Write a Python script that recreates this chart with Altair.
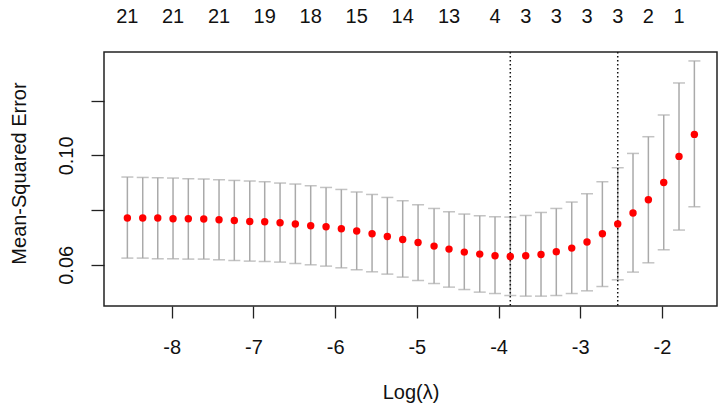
import altair as alt
import pandas as pd

# log(lambda) values of the 38 fitted lambdas
log_lambda = [-8.543, -8.355, -8.171, -7.984, -7.797, -7.608, -7.421, -7.234, -7.045, -6.862,
              -6.674, -6.487, -6.299, -6.111, -5.924, -5.736, -5.548, -5.361, -5.173, -4.985,
              -4.789, -4.606, -4.419, -4.230, -4.043, -3.856, -3.667, -3.480, -3.293, -3.104,
              -2.917, -2.729, -2.541, -2.354, -2.166, -1.978, -1.791, -1.603]

cvm = [0.0771, 0.0771, 0.0771, 0.07683, 0.07683, 0.07672, 0.07647, 0.07621, 0.07584, 0.07573,
       0.07537, 0.07489, 0.07427, 0.0739, 0.07317, 0.07233, 0.07134, 0.07035, 0.06926, 0.06816,
       0.06684, 0.06574, 0.06465, 0.06392, 0.06329, 0.06304, 0.06329, 0.06377, 0.06476, 0.06611,
       0.06831, 0.07134, 0.07489, 0.07892, 0.08378, 0.09011, 0.09963, 0.10768]

cvup = [0.09209, 0.09194, 0.09183, 0.09172, 0.09147, 0.09136, 0.0911, 0.09085, 0.09063, 0.09037,
        0.08989, 0.08953, 0.08891, 0.08828, 0.08755, 0.0866, 0.08572, 0.08463, 0.08342, 0.08195,
        0.0806, 0.07939, 0.07855, 0.07793, 0.07756, 0.07745, 0.07804, 0.07914, 0.0806, 0.08294,
        0.08598, 0.09037, 0.09549, 0.10072, 0.10683, 0.11477, 0.12648, 0.13453]

cvlo = [0.06245, 0.06245, 0.0622, 0.0622, 0.06209, 0.06209, 0.06183, 0.06157, 0.06135, 0.06121,
        0.06099, 0.06048, 0.06, 0.05952, 0.0589, 0.05817, 0.05744, 0.0566, 0.0555, 0.05426,
        0.05316, 0.05184, 0.05096, 0.05001, 0.0495, 0.04877, 0.04855, 0.04855, 0.04877, 0.0495,
        0.05049, 0.05206, 0.05451, 0.05733, 0.06073, 0.06549, 0.0727, 0.08122]

# number of non-zero coefficients shown on top axis
top_pos = [-8.543, -7.984, -7.421, -6.862, -6.299, -5.736, -5.173, -4.606, -4.043,
           -3.667, -3.293, -2.917, -2.541, -2.166, -1.791]
top_lab = ["21", "21", "21", "19", "18", "15", "14", "13", "4", "3", "3", "3", "3", "2", "1"]

lambda_min = -3.856
lambda_1se = -2.541

x_ticks = [-8, -7, -6, -5, -4, -3, -2]
y_ticks = [0.06, 0.08, 0.10, 0.12]

FONT = "Liberation Sans"

df = pd.DataFrame({"x": log_lambda, "m": cvm, "up": cvup, "lo": cvlo})
top_df = pd.DataFrame({"x": top_pos, "lab": top_lab})
vl_df = pd.DataFrame({"x": [lambda_min, lambda_1se]})

xs = alt.Scale(domain=[-8.829, -1.326], nice=False, zero=False)
ys = alt.Scale(domain=[0.04494, 0.1378], nice=False, zero=False)

x_axis = alt.Axis(values=x_ticks, grid=False, domain=False, tickSize=12, tickWidth=1.3,
                  tickColor="#222", labelFont=FONT, labelFontSize=20, labelColor="#111",
                  labelBaseline="alphabetic", labelPadding=35, labelExpr="'' + datum.value",
                  labelFlush=False, labelOverlap=False,
                  title="Log(λ)", titleFont=FONT, titleFontSize=20, titleFontWeight="normal",
                  titleColor="#111", titleX=306.5, titleY=92, titleAlign="center",
                  titleBaseline="alphabetic")

y_axis = alt.Axis(values=y_ticks, grid=False, domain=False, tickSize=13, tickWidth=1.3,
                  tickColor="#222", labelFont=FONT, labelFontSize=20, labelColor="#111",
                  labelAngle=270, labelAlign="center", labelBaseline="alphabetic",
                  labelPadding=19, labelFlush=False, labelOverlap=False,
                  labelExpr="(abs(datum.value-0.06)<1e-6 || abs(datum.value-0.10)<1e-6) ? format(datum.value, '.2f') : ''",
                  title="Mean-Squared Error", titleFont=FONT, titleFontSize=20,
                  titleFontWeight="normal", titleColor="#111", titleAngle=270,
                  titleX=-79, titleY=121, titleAlign="center", titleBaseline="alphabetic")

base = alt.Chart(df)

bars = base.mark_rule(color="#AAAAAA", strokeWidth=1.5).encode(
    x=alt.X("x:Q", scale=xs, axis=x_axis),
    y=alt.Y("lo:Q", scale=ys, axis=y_axis),
    y2="up:Q",
)
cap_up = base.mark_tick(color="#AAAAAA", orient="horizontal", size=12, thickness=1.5).encode(
    x=alt.X("x:Q", scale=xs), y=alt.Y("up:Q", scale=ys)
)
cap_lo = base.mark_tick(color="#AAAAAA", orient="horizontal", size=12, thickness=1.5).encode(
    x=alt.X("x:Q", scale=xs), y=alt.Y("lo:Q", scale=ys)
)
vlines = alt.Chart(vl_df).mark_rule(color="#111", strokeWidth=1.5, strokeDash=[1.5, 2.5]).encode(
    x=alt.X("x:Q", scale=xs)
)
points = base.mark_circle(color="#FF0000", opacity=1, size=55).encode(
    x=alt.X("x:Q", scale=xs), y=alt.Y("m:Q", scale=ys)
)
top_text = alt.Chart(top_df).mark_text(font=FONT, fontSize=20, color="#111",
                                       baseline="alphabetic", align="center").encode(
    x=alt.X("x:Q", scale=xs), y=alt.value(-29), text="lab:N"
)

chart = alt.layer(bars, cap_up, cap_lo, vlines, points, top_text).properties(
    width=613, height=254,
    autosize=alt.AutoSizeParams(type="none"),
    padding={"left": 104, "top": 52, "right": 3, "bottom": 100},
    background="white",
).configure_view(stroke="#222", strokeWidth=1.5)

chart.save("out.html", embed_options={"renderer": "svg", "actions": False})
